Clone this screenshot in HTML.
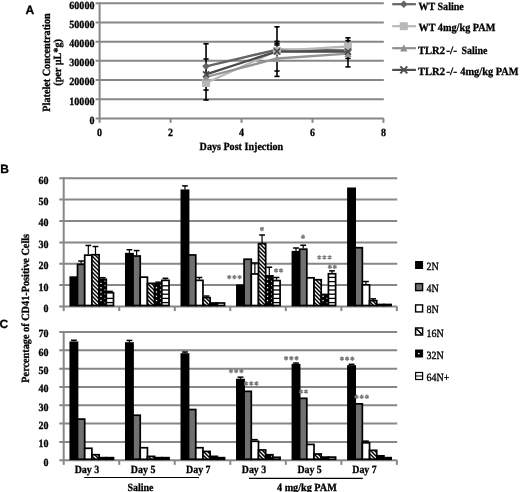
<!DOCTYPE html>
<html><head><meta charset="utf-8"><style>
html,body{margin:0;padding:0;background:#fff;}
body{width:520px;height:492px;overflow:hidden;}
svg{display:block;will-change:transform;}
text{text-rendering:geometricPrecision;}
text[font-weight="bold"]{stroke:currentColor;stroke-width:0.3px;}
text[font-weight="normal"]{stroke:currentColor;stroke-width:0.35px;}
</style></head><body>
<svg width="520" height="492" viewBox="0 0 520 492">
<rect width="520" height="492" fill="#fff"/>
<line x1="95.60" y1="118.43" x2="383.80" y2="118.43" stroke="#878787" stroke-width="2"/>
<line x1="95.60" y1="99.23" x2="383.80" y2="99.23" stroke="#878787" stroke-width="2"/>
<line x1="95.60" y1="80.04" x2="383.80" y2="80.04" stroke="#878787" stroke-width="2"/>
<line x1="95.60" y1="60.84" x2="383.80" y2="60.84" stroke="#878787" stroke-width="2"/>
<line x1="95.60" y1="41.65" x2="383.80" y2="41.65" stroke="#878787" stroke-width="2"/>
<line x1="95.60" y1="22.45" x2="383.80" y2="22.45" stroke="#878787" stroke-width="2"/>
<line x1="95.60" y1="3.25" x2="383.80" y2="3.25" stroke="#878787" stroke-width="2"/>
<line x1="99.60" y1="2.25" x2="99.60" y2="122.80" stroke="#878787" stroke-width="2"/>
<line x1="170.56" y1="118.43" x2="170.56" y2="122.80" stroke="#878787" stroke-width="2"/>
<line x1="241.52" y1="118.43" x2="241.52" y2="122.80" stroke="#878787" stroke-width="2"/>
<line x1="312.48" y1="118.43" x2="312.48" y2="122.80" stroke="#878787" stroke-width="2"/>
<line x1="383.44" y1="118.43" x2="383.44" y2="122.80" stroke="#878787" stroke-width="2"/>
<text x="94.40" y="123.83" font-size="11" text-anchor="end" font-weight="bold" fill="#000" color="#000" font-family='"Liberation Serif", serif' textLength="5.0" lengthAdjust="spacingAndGlyphs">0</text>
<text x="94.40" y="104.63" font-size="11" text-anchor="end" font-weight="bold" fill="#000" color="#000" font-family='"Liberation Serif", serif' textLength="25.03" lengthAdjust="spacingAndGlyphs">10000</text>
<text x="94.40" y="85.44" font-size="11" text-anchor="end" font-weight="bold" fill="#000" color="#000" font-family='"Liberation Serif", serif' textLength="25.03" lengthAdjust="spacingAndGlyphs">20000</text>
<text x="94.40" y="66.24" font-size="11" text-anchor="end" font-weight="bold" fill="#000" color="#000" font-family='"Liberation Serif", serif' textLength="25.03" lengthAdjust="spacingAndGlyphs">30000</text>
<text x="94.40" y="47.05" font-size="11" text-anchor="end" font-weight="bold" fill="#000" color="#000" font-family='"Liberation Serif", serif' textLength="25.03" lengthAdjust="spacingAndGlyphs">40000</text>
<text x="94.40" y="27.85" font-size="11" text-anchor="end" font-weight="bold" fill="#000" color="#000" font-family='"Liberation Serif", serif' textLength="25.03" lengthAdjust="spacingAndGlyphs">50000</text>
<text x="94.40" y="8.65" font-size="11" text-anchor="end" font-weight="bold" fill="#000" color="#000" font-family='"Liberation Serif", serif' textLength="25.03" lengthAdjust="spacingAndGlyphs">60000</text>
<text x="99.60" y="136.00" font-size="11" text-anchor="middle" font-weight="bold" fill="#000" color="#000" font-family='"Liberation Serif", serif' textLength="5.0" lengthAdjust="spacingAndGlyphs">0</text>
<text x="170.56" y="136.00" font-size="11" text-anchor="middle" font-weight="bold" fill="#000" color="#000" font-family='"Liberation Serif", serif' textLength="5.0" lengthAdjust="spacingAndGlyphs">2</text>
<text x="241.52" y="136.00" font-size="11" text-anchor="middle" font-weight="bold" fill="#000" color="#000" font-family='"Liberation Serif", serif' textLength="5.0" lengthAdjust="spacingAndGlyphs">4</text>
<text x="312.48" y="136.00" font-size="11" text-anchor="middle" font-weight="bold" fill="#000" color="#000" font-family='"Liberation Serif", serif' textLength="5.0" lengthAdjust="spacingAndGlyphs">6</text>
<text x="383.44" y="136.00" font-size="11" text-anchor="middle" font-weight="bold" fill="#000" color="#000" font-family='"Liberation Serif", serif' textLength="5.0" lengthAdjust="spacingAndGlyphs">8</text>
<text x="241.40" y="150.30" font-size="11" text-anchor="middle" font-weight="bold" fill="#000" color="#000" font-family='"Liberation Serif", serif' textLength="83.6" lengthAdjust="spacingAndGlyphs">Days Post Injection</text>
<g transform="translate(50.0,62.5) rotate(-90)">
<text x="0.00" y="0.00" font-size="11" text-anchor="middle" font-weight="bold" fill="#000" color="#000" font-family='"Liberation Serif", serif' textLength="98.3" lengthAdjust="spacingAndGlyphs">Platelet Concentration</text>
</g>
<g transform="translate(61.4,62.4) rotate(-90)">
<text x="0.00" y="0.00" font-size="11" text-anchor="middle" font-weight="bold" fill="#000" color="#000" font-family='"Liberation Serif", serif' textLength="46.6" lengthAdjust="spacingAndGlyphs">(per µL*g)</text>
</g>
<line x1="206.04" y1="43.80" x2="206.04" y2="100.00" stroke="#000" stroke-width="1.6"/>
<line x1="203.44" y1="43.80" x2="208.64" y2="43.80" stroke="#000" stroke-width="1.6"/>
<line x1="203.44" y1="59.00" x2="208.64" y2="59.00" stroke="#000" stroke-width="1.6"/>
<line x1="203.44" y1="90.00" x2="208.64" y2="90.00" stroke="#000" stroke-width="1.6"/>
<line x1="203.44" y1="100.00" x2="208.64" y2="100.00" stroke="#000" stroke-width="1.6"/>
<line x1="277.00" y1="26.80" x2="277.00" y2="76.40" stroke="#000" stroke-width="1.6"/>
<line x1="274.40" y1="26.80" x2="279.60" y2="26.80" stroke="#000" stroke-width="1.6"/>
<line x1="274.40" y1="41.40" x2="279.60" y2="41.40" stroke="#000" stroke-width="1.6"/>
<line x1="274.40" y1="43.40" x2="279.60" y2="43.40" stroke="#000" stroke-width="1.6"/>
<line x1="274.40" y1="45.00" x2="279.60" y2="45.00" stroke="#000" stroke-width="1.6"/>
<line x1="274.40" y1="71.00" x2="279.60" y2="71.00" stroke="#000" stroke-width="1.6"/>
<line x1="274.40" y1="76.40" x2="279.60" y2="76.40" stroke="#000" stroke-width="1.6"/>
<line x1="347.96" y1="37.80" x2="347.96" y2="66.90" stroke="#000" stroke-width="1.6"/>
<line x1="345.36" y1="37.80" x2="350.56" y2="37.80" stroke="#000" stroke-width="1.6"/>
<line x1="345.36" y1="40.60" x2="350.56" y2="40.60" stroke="#000" stroke-width="1.6"/>
<line x1="345.36" y1="58.40" x2="350.56" y2="58.40" stroke="#000" stroke-width="1.6"/>
<line x1="345.36" y1="66.90" x2="350.56" y2="66.90" stroke="#000" stroke-width="1.6"/>
<path d="M206.04 66.30 L277.00 49.60 L347.96 50.50" stroke="#646464" stroke-width="2.3" fill="none"/>
<path d="M206.04 83.00 L277.00 50.80 L347.96 46.50" stroke="#b8b8b8" stroke-width="2.3" fill="none"/>
<path d="M206.04 77.00 L277.00 58.50 L347.96 53.60" stroke="#949494" stroke-width="2.3" fill="none"/>
<path d="M206.04 74.30 L277.00 51.30 L347.96 51.60" stroke="#4a4a4a" stroke-width="2.3" fill="none"/>
<path d="M206.04 62.50 L209.84 66.30 L206.04 70.10 L202.24 66.30Z" fill="#646464"/>
<path d="M277.00 45.80 L280.80 49.60 L277.00 53.40 L273.20 49.60Z" fill="#646464"/>
<path d="M347.96 46.70 L351.76 50.50 L347.96 54.30 L344.16 50.50Z" fill="#646464"/>
<rect x="202.04" y="79.00" width="8" height="8" fill="#b8b8b8"/>
<rect x="273.00" y="46.80" width="8" height="8" fill="#b8b8b8"/>
<rect x="343.96" y="42.50" width="8" height="8" fill="#b8b8b8"/>
<path d="M206.04 73.00 L209.64 80.40 L202.44 80.40Z" fill="#949494"/>
<path d="M277.00 54.50 L280.60 61.90 L273.40 61.90Z" fill="#949494"/>
<path d="M347.96 49.60 L351.56 57.00 L344.36 57.00Z" fill="#949494"/>
<path d="M203.04 71.30 L209.04 77.30 M209.04 71.30 L203.04 77.30" stroke="#4a4a4a" stroke-width="1.7" fill="none"/>
<path d="M274.00 48.30 L280.00 54.30 M280.00 48.30 L274.00 54.30" stroke="#4a4a4a" stroke-width="1.7" fill="none"/>
<path d="M344.96 48.60 L350.96 54.60 M350.96 48.60 L344.96 54.60" stroke="#4a4a4a" stroke-width="1.7" fill="none"/>
<line x1="392.2" y1="4.20" x2="415.9" y2="4.20" stroke="#646464" stroke-width="2.2"/>
<path d="M403.80 0.40 L407.60 4.20 L403.80 8.00 L400.00 4.20Z" fill="#646464"/>
<line x1="392.2" y1="26.20" x2="415.9" y2="26.20" stroke="#b8b8b8" stroke-width="2.2"/>
<rect x="399.80" y="22.20" width="8" height="8" fill="#b8b8b8"/>
<line x1="392.2" y1="48.20" x2="415.9" y2="48.20" stroke="#8e8e8e" stroke-width="2.2"/>
<path d="M403.80 44.20 L407.40 51.60 L400.20 51.60Z" fill="#8e8e8e"/>
<line x1="392.2" y1="69.90" x2="415.9" y2="69.90" stroke="#4e4e4e" stroke-width="2.2"/>
<path d="M400.30 66.40 L407.30 73.40 M407.30 66.40 L400.30 73.40" stroke="#4e4e4e" stroke-width="2.0" fill="none"/>
<text x="418.40" y="9.50" font-size="11" text-anchor="start" font-weight="bold" fill="#000" color="#000" font-family='"Liberation Serif", serif' textLength="45.4" lengthAdjust="spacingAndGlyphs">WT Saline</text>
<text x="418.40" y="31.10" font-size="11" text-anchor="start" font-weight="bold" fill="#000" color="#000" font-family='"Liberation Serif", serif' textLength="77.0" lengthAdjust="spacingAndGlyphs">WT 4mg/kg PAM</text>
<text x="418.00" y="53.50" font-size="11" text-anchor="start" font-weight="bold" fill="#000" color="#000" font-family='"Liberation Serif", serif' textLength="27.0" lengthAdjust="spacingAndGlyphs">TLR2</text>
<text x="446.20" y="53.50" font-size="11" text-anchor="start" font-weight="bold" fill="#000" color="#000" font-family='"Liberation Serif", serif' textLength="10.8" lengthAdjust="spacingAndGlyphs">-/-</text>
<text x="418.00" y="75.20" font-size="11" text-anchor="start" font-weight="bold" fill="#000" color="#000" font-family='"Liberation Serif", serif' textLength="27.0" lengthAdjust="spacingAndGlyphs">TLR2</text>
<text x="446.20" y="75.20" font-size="11" text-anchor="start" font-weight="bold" fill="#000" color="#000" font-family='"Liberation Serif", serif' textLength="10.8" lengthAdjust="spacingAndGlyphs">-/-</text>
<text x="461.60" y="53.50" font-size="11" text-anchor="start" font-weight="bold" fill="#000" color="#000" font-family='"Liberation Serif", serif' textLength="25.8" lengthAdjust="spacingAndGlyphs">Saline</text>
<text x="460.30" y="75.20" font-size="11" text-anchor="start" font-weight="bold" fill="#000" color="#000" font-family='"Liberation Serif", serif' textLength="58.2" lengthAdjust="spacingAndGlyphs">4mg/kg PAM</text>
<defs>
<pattern id="hatch" patternUnits="userSpaceOnUse" width="4" height="4">
<rect width="4" height="4" fill="#fff"/>
<path d="M-1 -1 L5 5 M-1 3 L1 5 M3 -1 L5 1" stroke="#000" stroke-width="1.5"/>
</pattern>
</defs>
<line x1="59.30" y1="306.50" x2="397.20" y2="306.50" stroke="#878787" stroke-width="2"/>
<line x1="59.30" y1="285.12" x2="397.20" y2="285.12" stroke="#878787" stroke-width="2"/>
<line x1="59.30" y1="263.75" x2="397.20" y2="263.75" stroke="#878787" stroke-width="2"/>
<line x1="59.30" y1="242.38" x2="397.20" y2="242.38" stroke="#878787" stroke-width="2"/>
<line x1="59.30" y1="221.00" x2="397.20" y2="221.00" stroke="#878787" stroke-width="2"/>
<line x1="59.30" y1="199.62" x2="397.20" y2="199.62" stroke="#878787" stroke-width="2"/>
<line x1="59.30" y1="178.25" x2="397.20" y2="178.25" stroke="#878787" stroke-width="2"/>
<line x1="63.70" y1="177.25" x2="63.70" y2="311.10" stroke="#878787" stroke-width="2"/>
<line x1="119.23" y1="306.50" x2="119.23" y2="311.10" stroke="#878787" stroke-width="2"/>
<line x1="174.76" y1="306.50" x2="174.76" y2="311.10" stroke="#878787" stroke-width="2"/>
<line x1="230.29" y1="306.50" x2="230.29" y2="311.10" stroke="#878787" stroke-width="2"/>
<line x1="285.82" y1="306.50" x2="285.82" y2="311.10" stroke="#878787" stroke-width="2"/>
<line x1="341.35" y1="306.50" x2="341.35" y2="311.10" stroke="#878787" stroke-width="2"/>
<line x1="396.88" y1="306.50" x2="396.88" y2="311.10" stroke="#878787" stroke-width="2"/>
<text x="48.60" y="311.90" font-size="11" text-anchor="end" font-weight="bold" fill="#000" color="#000" font-family='"Liberation Serif", serif' textLength="5.0" lengthAdjust="spacingAndGlyphs">0</text>
<text x="48.60" y="290.52" font-size="11" text-anchor="end" font-weight="bold" fill="#000" color="#000" font-family='"Liberation Serif", serif' textLength="10.01" lengthAdjust="spacingAndGlyphs">10</text>
<text x="48.60" y="269.15" font-size="11" text-anchor="end" font-weight="bold" fill="#000" color="#000" font-family='"Liberation Serif", serif' textLength="10.01" lengthAdjust="spacingAndGlyphs">20</text>
<text x="48.60" y="247.78" font-size="11" text-anchor="end" font-weight="bold" fill="#000" color="#000" font-family='"Liberation Serif", serif' textLength="10.01" lengthAdjust="spacingAndGlyphs">30</text>
<text x="48.60" y="226.40" font-size="11" text-anchor="end" font-weight="bold" fill="#000" color="#000" font-family='"Liberation Serif", serif' textLength="10.01" lengthAdjust="spacingAndGlyphs">40</text>
<text x="48.60" y="205.03" font-size="11" text-anchor="end" font-weight="bold" fill="#000" color="#000" font-family='"Liberation Serif", serif' textLength="10.01" lengthAdjust="spacingAndGlyphs">50</text>
<text x="48.60" y="183.65" font-size="11" text-anchor="end" font-weight="bold" fill="#000" color="#000" font-family='"Liberation Serif", serif' textLength="10.01" lengthAdjust="spacingAndGlyphs">60</text>
<rect x="70.30" y="277.16" width="7.20" height="28.34" fill="#000" stroke="#000" stroke-width="1.7"/>
<rect x="77.50" y="264.35" width="7.20" height="41.15" fill="#707070" stroke="#000" stroke-width="1.7"/>
<line x1="81.10" y1="261.04" x2="81.10" y2="263.60" stroke="#000" stroke-width="1.2"/>
<line x1="78.20" y1="261.04" x2="84.00" y2="261.04" stroke="#000" stroke-width="1.5"/>
<rect x="84.70" y="255.17" width="7.20" height="50.33" fill="#fff" stroke="#000" stroke-width="1.7"/>
<line x1="88.30" y1="245.45" x2="88.30" y2="254.42" stroke="#000" stroke-width="1.2"/>
<line x1="85.40" y1="245.45" x2="91.20" y2="245.45" stroke="#000" stroke-width="1.5"/>
<rect x="91.90" y="254.74" width="7.20" height="50.76" fill="url(#hatch)" stroke="#000" stroke-width="1.7"/>
<line x1="95.50" y1="246.52" x2="95.50" y2="253.99" stroke="#000" stroke-width="1.2"/>
<line x1="92.60" y1="246.52" x2="98.40" y2="246.52" stroke="#000" stroke-width="1.5"/>
<rect x="99.10" y="279.30" width="7.20" height="26.20" fill="#000" stroke="#000" stroke-width="1.7"/>
<rect x="100.30" y="299.90" width="1.3" height="1.3" fill="#fff"/>
<rect x="100.30" y="295.62" width="1.3" height="1.3" fill="#fff"/>
<rect x="100.30" y="291.34" width="1.3" height="1.3" fill="#fff"/>
<rect x="100.30" y="287.06" width="1.3" height="1.3" fill="#fff"/>
<rect x="100.30" y="282.78" width="1.3" height="1.3" fill="#fff"/>
<rect x="104.40" y="302.00" width="1.2" height="1.3" fill="#aaa"/>
<rect x="104.40" y="297.72" width="1.2" height="1.3" fill="#aaa"/>
<rect x="104.40" y="293.44" width="1.2" height="1.3" fill="#aaa"/>
<rect x="104.40" y="289.16" width="1.2" height="1.3" fill="#aaa"/>
<rect x="104.40" y="284.88" width="1.2" height="1.3" fill="#aaa"/>
<rect x="104.40" y="280.60" width="1.2" height="1.3" fill="#aaa"/>
<line x1="102.70" y1="277.69" x2="102.70" y2="278.55" stroke="#000" stroke-width="1.2"/>
<line x1="99.80" y1="277.69" x2="105.60" y2="277.69" stroke="#000" stroke-width="1.5"/>
<rect x="106.30" y="292.75" width="7.20" height="12.75" fill="#fff" stroke="#000" stroke-width="1.7"/>
<line x1="106.30" y1="302.60" x2="113.50" y2="302.60" stroke="#000" stroke-width="1.3"/>
<line x1="106.30" y1="298.40" x2="113.50" y2="298.40" stroke="#000" stroke-width="1.3"/>
<line x1="109.90" y1="291.36" x2="109.90" y2="292.00" stroke="#000" stroke-width="1.2"/>
<line x1="107.00" y1="291.36" x2="112.80" y2="291.36" stroke="#000" stroke-width="1.5"/>
<rect x="125.83" y="253.68" width="7.20" height="51.82" fill="#000" stroke="#000" stroke-width="1.7"/>
<line x1="129.43" y1="249.72" x2="129.43" y2="252.93" stroke="#000" stroke-width="1.2"/>
<line x1="126.53" y1="249.72" x2="132.33" y2="249.72" stroke="#000" stroke-width="1.5"/>
<rect x="133.03" y="256.02" width="7.20" height="49.48" fill="#707070" stroke="#000" stroke-width="1.7"/>
<line x1="136.63" y1="250.58" x2="136.63" y2="255.27" stroke="#000" stroke-width="1.2"/>
<line x1="133.73" y1="250.58" x2="139.53" y2="250.58" stroke="#000" stroke-width="1.5"/>
<rect x="140.23" y="277.16" width="7.20" height="28.34" fill="#fff" stroke="#000" stroke-width="1.7"/>
<rect x="147.43" y="283.35" width="7.20" height="22.15" fill="url(#hatch)" stroke="#000" stroke-width="1.7"/>
<rect x="154.63" y="283.78" width="7.20" height="21.72" fill="#000" stroke="#000" stroke-width="1.7"/>
<rect x="155.83" y="299.90" width="1.3" height="1.3" fill="#fff"/>
<rect x="155.83" y="295.62" width="1.3" height="1.3" fill="#fff"/>
<rect x="155.83" y="291.34" width="1.3" height="1.3" fill="#fff"/>
<rect x="155.83" y="287.06" width="1.3" height="1.3" fill="#fff"/>
<rect x="159.93" y="302.00" width="1.2" height="1.3" fill="#aaa"/>
<rect x="159.93" y="297.72" width="1.2" height="1.3" fill="#aaa"/>
<rect x="159.93" y="293.44" width="1.2" height="1.3" fill="#aaa"/>
<rect x="159.93" y="289.16" width="1.2" height="1.3" fill="#aaa"/>
<rect x="159.93" y="284.88" width="1.2" height="1.3" fill="#aaa"/>
<line x1="158.23" y1="282.17" x2="158.23" y2="283.03" stroke="#000" stroke-width="1.2"/>
<line x1="155.33" y1="282.17" x2="161.13" y2="282.17" stroke="#000" stroke-width="1.5"/>
<rect x="161.83" y="280.36" width="7.20" height="25.14" fill="#fff" stroke="#000" stroke-width="1.7"/>
<line x1="161.83" y1="302.60" x2="169.03" y2="302.60" stroke="#000" stroke-width="1.3"/>
<line x1="161.83" y1="298.40" x2="169.03" y2="298.40" stroke="#000" stroke-width="1.3"/>
<line x1="161.83" y1="294.20" x2="169.03" y2="294.20" stroke="#000" stroke-width="1.3"/>
<line x1="161.83" y1="290.00" x2="169.03" y2="290.00" stroke="#000" stroke-width="1.3"/>
<line x1="161.83" y1="285.80" x2="169.03" y2="285.80" stroke="#000" stroke-width="1.3"/>
<line x1="165.43" y1="278.33" x2="165.43" y2="279.61" stroke="#000" stroke-width="1.2"/>
<line x1="162.53" y1="278.33" x2="168.33" y2="278.33" stroke="#000" stroke-width="1.5"/>
<rect x="181.36" y="190.27" width="7.20" height="115.23" fill="#000" stroke="#000" stroke-width="1.7"/>
<line x1="184.96" y1="185.89" x2="184.96" y2="189.52" stroke="#000" stroke-width="1.2"/>
<line x1="182.06" y1="185.89" x2="187.86" y2="185.89" stroke="#000" stroke-width="1.5"/>
<rect x="188.56" y="254.96" width="7.20" height="50.54" fill="#707070" stroke="#000" stroke-width="1.7"/>
<rect x="195.76" y="280.36" width="7.20" height="25.14" fill="#fff" stroke="#000" stroke-width="1.7"/>
<line x1="199.36" y1="277.48" x2="199.36" y2="279.61" stroke="#000" stroke-width="1.2"/>
<line x1="196.46" y1="277.48" x2="202.26" y2="277.48" stroke="#000" stroke-width="1.5"/>
<rect x="202.96" y="297.66" width="7.20" height="7.84" fill="url(#hatch)" stroke="#000" stroke-width="1.7"/>
<line x1="206.56" y1="296.05" x2="206.56" y2="296.91" stroke="#000" stroke-width="1.2"/>
<line x1="203.66" y1="296.05" x2="209.46" y2="296.05" stroke="#000" stroke-width="1.5"/>
<rect x="210.16" y="302.99" width="7.20" height="2.51" fill="#000" stroke="#000" stroke-width="1.7"/>
<rect x="217.36" y="302.99" width="7.20" height="2.51" fill="#fff" stroke="#000" stroke-width="1.7"/>
<rect x="236.89" y="285.27" width="7.20" height="20.23" fill="#000" stroke="#000" stroke-width="1.7"/>
<rect x="244.09" y="259.23" width="7.20" height="46.27" fill="#707070" stroke="#000" stroke-width="1.7"/>
<rect x="251.29" y="273.96" width="7.20" height="31.54" fill="#fff" stroke="#000" stroke-width="1.7"/>
<line x1="254.89" y1="262.96" x2="254.89" y2="273.21" stroke="#000" stroke-width="1.2"/>
<line x1="251.99" y1="262.96" x2="257.79" y2="262.96" stroke="#000" stroke-width="1.5"/>
<rect x="258.49" y="243.64" width="7.20" height="61.86" fill="url(#hatch)" stroke="#000" stroke-width="1.7"/>
<line x1="262.09" y1="234.99" x2="262.09" y2="242.89" stroke="#000" stroke-width="1.2"/>
<line x1="259.19" y1="234.99" x2="264.99" y2="234.99" stroke="#000" stroke-width="1.5"/>
<rect x="265.69" y="275.88" width="7.20" height="29.62" fill="#000" stroke="#000" stroke-width="1.7"/>
<rect x="266.89" y="299.90" width="1.3" height="1.3" fill="#fff"/>
<rect x="266.89" y="295.62" width="1.3" height="1.3" fill="#fff"/>
<rect x="266.89" y="291.34" width="1.3" height="1.3" fill="#fff"/>
<rect x="266.89" y="287.06" width="1.3" height="1.3" fill="#fff"/>
<rect x="266.89" y="282.78" width="1.3" height="1.3" fill="#fff"/>
<rect x="266.89" y="278.50" width="1.3" height="1.3" fill="#fff"/>
<rect x="270.99" y="302.00" width="1.2" height="1.3" fill="#aaa"/>
<rect x="270.99" y="297.72" width="1.2" height="1.3" fill="#aaa"/>
<rect x="270.99" y="293.44" width="1.2" height="1.3" fill="#aaa"/>
<rect x="270.99" y="289.16" width="1.2" height="1.3" fill="#aaa"/>
<rect x="270.99" y="284.88" width="1.2" height="1.3" fill="#aaa"/>
<rect x="270.99" y="280.60" width="1.2" height="1.3" fill="#aaa"/>
<line x1="269.29" y1="267.23" x2="269.29" y2="275.13" stroke="#000" stroke-width="1.2"/>
<line x1="266.39" y1="267.23" x2="272.19" y2="267.23" stroke="#000" stroke-width="1.5"/>
<rect x="272.89" y="280.58" width="7.20" height="24.92" fill="#fff" stroke="#000" stroke-width="1.7"/>
<line x1="272.89" y1="302.60" x2="280.09" y2="302.60" stroke="#000" stroke-width="1.3"/>
<line x1="272.89" y1="298.40" x2="280.09" y2="298.40" stroke="#000" stroke-width="1.3"/>
<line x1="272.89" y1="294.20" x2="280.09" y2="294.20" stroke="#000" stroke-width="1.3"/>
<line x1="272.89" y1="290.00" x2="280.09" y2="290.00" stroke="#000" stroke-width="1.3"/>
<line x1="272.89" y1="285.80" x2="280.09" y2="285.80" stroke="#000" stroke-width="1.3"/>
<line x1="276.49" y1="277.48" x2="276.49" y2="279.83" stroke="#000" stroke-width="1.2"/>
<line x1="273.59" y1="277.48" x2="279.39" y2="277.48" stroke="#000" stroke-width="1.5"/>
<rect x="292.42" y="251.75" width="7.20" height="53.75" fill="#000" stroke="#000" stroke-width="1.7"/>
<line x1="296.02" y1="248.01" x2="296.02" y2="251.00" stroke="#000" stroke-width="1.2"/>
<line x1="293.12" y1="248.01" x2="298.92" y2="248.01" stroke="#000" stroke-width="1.5"/>
<rect x="299.62" y="249.19" width="7.20" height="56.31" fill="#707070" stroke="#000" stroke-width="1.7"/>
<line x1="303.22" y1="245.24" x2="303.22" y2="248.44" stroke="#000" stroke-width="1.2"/>
<line x1="300.32" y1="245.24" x2="306.12" y2="245.24" stroke="#000" stroke-width="1.5"/>
<rect x="306.82" y="277.80" width="7.20" height="27.70" fill="#fff" stroke="#000" stroke-width="1.7"/>
<rect x="314.02" y="279.72" width="7.20" height="25.78" fill="url(#hatch)" stroke="#000" stroke-width="1.7"/>
<rect x="321.22" y="294.45" width="7.20" height="11.05" fill="#000" stroke="#000" stroke-width="1.7"/>
<rect x="322.42" y="299.90" width="1.3" height="1.3" fill="#fff"/>
<rect x="322.42" y="295.62" width="1.3" height="1.3" fill="#fff"/>
<rect x="326.52" y="302.00" width="1.2" height="1.3" fill="#aaa"/>
<rect x="326.52" y="297.72" width="1.2" height="1.3" fill="#aaa"/>
<rect x="328.42" y="273.74" width="7.20" height="31.76" fill="#fff" stroke="#000" stroke-width="1.7"/>
<line x1="328.42" y1="302.60" x2="335.62" y2="302.60" stroke="#000" stroke-width="1.3"/>
<line x1="328.42" y1="298.40" x2="335.62" y2="298.40" stroke="#000" stroke-width="1.3"/>
<line x1="328.42" y1="294.20" x2="335.62" y2="294.20" stroke="#000" stroke-width="1.3"/>
<line x1="328.42" y1="290.00" x2="335.62" y2="290.00" stroke="#000" stroke-width="1.3"/>
<line x1="328.42" y1="285.80" x2="335.62" y2="285.80" stroke="#000" stroke-width="1.3"/>
<line x1="328.42" y1="281.60" x2="335.62" y2="281.60" stroke="#000" stroke-width="1.3"/>
<line x1="328.42" y1="277.40" x2="335.62" y2="277.40" stroke="#000" stroke-width="1.3"/>
<line x1="332.02" y1="270.86" x2="332.02" y2="272.99" stroke="#000" stroke-width="1.2"/>
<line x1="329.12" y1="270.86" x2="334.92" y2="270.86" stroke="#000" stroke-width="1.5"/>
<rect x="347.95" y="188.34" width="7.20" height="117.16" fill="#000" stroke="#000" stroke-width="1.7"/>
<rect x="355.15" y="247.70" width="7.20" height="57.80" fill="#707070" stroke="#000" stroke-width="1.7"/>
<rect x="362.35" y="284.85" width="7.20" height="20.65" fill="#fff" stroke="#000" stroke-width="1.7"/>
<line x1="365.95" y1="281.53" x2="365.95" y2="284.10" stroke="#000" stroke-width="1.2"/>
<line x1="363.05" y1="281.53" x2="368.85" y2="281.53" stroke="#000" stroke-width="1.5"/>
<rect x="369.55" y="300.65" width="7.20" height="4.85" fill="url(#hatch)" stroke="#000" stroke-width="1.7"/>
<line x1="373.15" y1="298.83" x2="373.15" y2="299.90" stroke="#000" stroke-width="1.2"/>
<line x1="370.25" y1="298.83" x2="376.05" y2="298.83" stroke="#000" stroke-width="1.5"/>
<rect x="376.75" y="304.49" width="7.20" height="1.01" fill="#000" stroke="#000" stroke-width="1.7"/>
<rect x="383.95" y="304.49" width="7.20" height="1.01" fill="#fff" stroke="#000" stroke-width="1.7"/>
<line x1="59.30" y1="460.27" x2="397.20" y2="460.27" stroke="#878787" stroke-width="2"/>
<line x1="59.30" y1="441.94" x2="397.20" y2="441.94" stroke="#878787" stroke-width="2"/>
<line x1="59.30" y1="423.62" x2="397.20" y2="423.62" stroke="#878787" stroke-width="2"/>
<line x1="59.30" y1="405.29" x2="397.20" y2="405.29" stroke="#878787" stroke-width="2"/>
<line x1="59.30" y1="386.97" x2="397.20" y2="386.97" stroke="#878787" stroke-width="2"/>
<line x1="59.30" y1="368.64" x2="397.20" y2="368.64" stroke="#878787" stroke-width="2"/>
<line x1="59.30" y1="350.31" x2="397.20" y2="350.31" stroke="#878787" stroke-width="2"/>
<line x1="59.30" y1="331.99" x2="397.20" y2="331.99" stroke="#878787" stroke-width="2"/>
<line x1="63.70" y1="330.99" x2="63.70" y2="464.87" stroke="#878787" stroke-width="2"/>
<line x1="119.23" y1="460.27" x2="119.23" y2="464.87" stroke="#878787" stroke-width="2"/>
<line x1="174.76" y1="460.27" x2="174.76" y2="464.87" stroke="#878787" stroke-width="2"/>
<line x1="230.29" y1="460.27" x2="230.29" y2="464.87" stroke="#878787" stroke-width="2"/>
<line x1="285.82" y1="460.27" x2="285.82" y2="464.87" stroke="#878787" stroke-width="2"/>
<line x1="341.35" y1="460.27" x2="341.35" y2="464.87" stroke="#878787" stroke-width="2"/>
<line x1="396.88" y1="460.27" x2="396.88" y2="464.87" stroke="#878787" stroke-width="2"/>
<text x="48.60" y="465.67" font-size="11" text-anchor="end" font-weight="bold" fill="#000" color="#000" font-family='"Liberation Serif", serif' textLength="5.0" lengthAdjust="spacingAndGlyphs">0</text>
<text x="48.60" y="447.34" font-size="11" text-anchor="end" font-weight="bold" fill="#000" color="#000" font-family='"Liberation Serif", serif' textLength="10.01" lengthAdjust="spacingAndGlyphs">10</text>
<text x="48.60" y="429.02" font-size="11" text-anchor="end" font-weight="bold" fill="#000" color="#000" font-family='"Liberation Serif", serif' textLength="10.01" lengthAdjust="spacingAndGlyphs">20</text>
<text x="48.60" y="410.69" font-size="11" text-anchor="end" font-weight="bold" fill="#000" color="#000" font-family='"Liberation Serif", serif' textLength="10.01" lengthAdjust="spacingAndGlyphs">30</text>
<text x="48.60" y="392.37" font-size="11" text-anchor="end" font-weight="bold" fill="#000" color="#000" font-family='"Liberation Serif", serif' textLength="10.01" lengthAdjust="spacingAndGlyphs">40</text>
<text x="48.60" y="374.04" font-size="11" text-anchor="end" font-weight="bold" fill="#000" color="#000" font-family='"Liberation Serif", serif' textLength="10.01" lengthAdjust="spacingAndGlyphs">50</text>
<text x="48.60" y="355.71" font-size="11" text-anchor="end" font-weight="bold" fill="#000" color="#000" font-family='"Liberation Serif", serif' textLength="10.01" lengthAdjust="spacingAndGlyphs">60</text>
<text x="48.60" y="337.39" font-size="11" text-anchor="end" font-weight="bold" fill="#000" color="#000" font-family='"Liberation Serif", serif' textLength="10.01" lengthAdjust="spacingAndGlyphs">70</text>
<rect x="70.30" y="342.30" width="7.20" height="116.97" fill="#000" stroke="#000" stroke-width="1.7"/>
<line x1="73.90" y1="340.26" x2="73.90" y2="341.55" stroke="#000" stroke-width="1.2"/>
<line x1="71.00" y1="340.26" x2="76.80" y2="340.26" stroke="#000" stroke-width="1.5"/>
<rect x="77.50" y="419.08" width="7.20" height="40.19" fill="#707070" stroke="#000" stroke-width="1.7"/>
<rect x="84.70" y="448.29" width="7.20" height="10.98" fill="#fff" stroke="#000" stroke-width="1.7"/>
<rect x="91.90" y="454.72" width="7.20" height="4.55" fill="url(#hatch)" stroke="#000" stroke-width="1.7"/>
<rect x="99.10" y="457.66" width="7.20" height="1.61" fill="#000" stroke="#000" stroke-width="1.7"/>
<rect x="106.30" y="457.66" width="7.20" height="1.61" fill="#fff" stroke="#000" stroke-width="1.7"/>
<rect x="125.83" y="343.03" width="7.20" height="116.24" fill="#000" stroke="#000" stroke-width="1.7"/>
<line x1="129.43" y1="340.44" x2="129.43" y2="342.28" stroke="#000" stroke-width="1.2"/>
<line x1="126.53" y1="340.44" x2="132.33" y2="340.44" stroke="#000" stroke-width="1.5"/>
<rect x="133.03" y="415.22" width="7.20" height="44.05" fill="#707070" stroke="#000" stroke-width="1.7"/>
<rect x="140.23" y="447.74" width="7.20" height="11.53" fill="#fff" stroke="#000" stroke-width="1.7"/>
<rect x="147.43" y="456.37" width="7.20" height="2.90" fill="url(#hatch)" stroke="#000" stroke-width="1.7"/>
<rect x="154.63" y="457.66" width="7.20" height="1.61" fill="#000" stroke="#000" stroke-width="1.7"/>
<rect x="161.83" y="457.66" width="7.20" height="1.61" fill="#fff" stroke="#000" stroke-width="1.7"/>
<rect x="181.36" y="354.05" width="7.20" height="105.22" fill="#000" stroke="#000" stroke-width="1.7"/>
<line x1="184.96" y1="352.02" x2="184.96" y2="353.30" stroke="#000" stroke-width="1.2"/>
<line x1="182.06" y1="352.02" x2="187.86" y2="352.02" stroke="#000" stroke-width="1.5"/>
<rect x="188.56" y="409.53" width="7.20" height="49.74" fill="#707070" stroke="#000" stroke-width="1.7"/>
<rect x="195.76" y="447.74" width="7.20" height="11.53" fill="#fff" stroke="#000" stroke-width="1.7"/>
<rect x="202.96" y="451.41" width="7.20" height="7.86" fill="url(#hatch)" stroke="#000" stroke-width="1.7"/>
<rect x="210.16" y="456.37" width="7.20" height="2.90" fill="#000" stroke="#000" stroke-width="1.7"/>
<rect x="217.36" y="457.66" width="7.20" height="1.61" fill="#fff" stroke="#000" stroke-width="1.7"/>
<rect x="236.89" y="379.59" width="7.20" height="79.68" fill="#000" stroke="#000" stroke-width="1.7"/>
<line x1="240.49" y1="377.18" x2="240.49" y2="378.84" stroke="#000" stroke-width="1.2"/>
<line x1="237.59" y1="377.18" x2="243.39" y2="377.18" stroke="#000" stroke-width="1.5"/>
<rect x="244.09" y="391.34" width="7.20" height="67.93" fill="#707070" stroke="#000" stroke-width="1.7"/>
<rect x="251.29" y="441.31" width="7.20" height="17.96" fill="#fff" stroke="#000" stroke-width="1.7"/>
<line x1="254.89" y1="439.64" x2="254.89" y2="440.56" stroke="#000" stroke-width="1.2"/>
<line x1="251.99" y1="439.64" x2="257.79" y2="439.64" stroke="#000" stroke-width="1.5"/>
<rect x="258.49" y="449.94" width="7.20" height="9.33" fill="url(#hatch)" stroke="#000" stroke-width="1.7"/>
<rect x="265.69" y="454.72" width="7.20" height="4.55" fill="#000" stroke="#000" stroke-width="1.7"/>
<rect x="270.99" y="455.77" width="1.2" height="1.3" fill="#aaa"/>
<rect x="272.89" y="457.29" width="7.20" height="1.98" fill="#fff" stroke="#000" stroke-width="1.7"/>
<rect x="292.42" y="364.71" width="7.20" height="94.56" fill="#000" stroke="#000" stroke-width="1.7"/>
<line x1="296.02" y1="363.04" x2="296.02" y2="363.96" stroke="#000" stroke-width="1.2"/>
<line x1="293.12" y1="363.04" x2="298.92" y2="363.04" stroke="#000" stroke-width="1.5"/>
<rect x="299.62" y="398.32" width="7.20" height="60.95" fill="#707070" stroke="#000" stroke-width="1.7"/>
<rect x="306.82" y="444.43" width="7.20" height="14.84" fill="#fff" stroke="#000" stroke-width="1.7"/>
<rect x="314.02" y="453.99" width="7.20" height="5.28" fill="url(#hatch)" stroke="#000" stroke-width="1.7"/>
<rect x="321.22" y="457.11" width="7.20" height="2.16" fill="#000" stroke="#000" stroke-width="1.7"/>
<rect x="328.42" y="457.11" width="7.20" height="2.16" fill="#fff" stroke="#000" stroke-width="1.7"/>
<rect x="347.95" y="365.99" width="7.20" height="93.28" fill="#000" stroke="#000" stroke-width="1.7"/>
<line x1="351.55" y1="364.32" x2="351.55" y2="365.24" stroke="#000" stroke-width="1.2"/>
<line x1="348.65" y1="364.32" x2="354.45" y2="364.32" stroke="#000" stroke-width="1.5"/>
<rect x="355.15" y="403.84" width="7.20" height="55.43" fill="#707070" stroke="#000" stroke-width="1.7"/>
<rect x="362.35" y="442.78" width="7.20" height="16.49" fill="#fff" stroke="#000" stroke-width="1.7"/>
<line x1="365.95" y1="441.11" x2="365.95" y2="442.03" stroke="#000" stroke-width="1.2"/>
<line x1="363.05" y1="441.11" x2="368.85" y2="441.11" stroke="#000" stroke-width="1.5"/>
<rect x="369.55" y="450.31" width="7.20" height="8.96" fill="url(#hatch)" stroke="#000" stroke-width="1.7"/>
<rect x="376.75" y="455.82" width="7.20" height="3.45" fill="#000" stroke="#000" stroke-width="1.7"/>
<rect x="383.95" y="457.66" width="7.20" height="1.61" fill="#fff" stroke="#000" stroke-width="1.7"/>
<path d="M229.20 274.90L229.20 279.30M227.29 276.00L231.11 278.20M231.11 276.00L227.29 278.20" stroke="#7c7c7c" stroke-width="1.3" fill="none"/>
<path d="M234.40 274.90L234.40 279.30M232.49 276.00L236.31 278.20M236.31 276.00L232.49 278.20" stroke="#7c7c7c" stroke-width="1.3" fill="none"/>
<path d="M239.60 274.90L239.60 279.30M237.69 276.00L241.51 278.20M241.51 276.00L237.69 278.20" stroke="#7c7c7c" stroke-width="1.3" fill="none"/>
<path d="M262.00 226.80L262.00 231.20M260.09 227.90L263.91 230.10M263.91 227.90L260.09 230.10" stroke="#7c7c7c" stroke-width="1.3" fill="none"/>
<path d="M276.15 268.30L276.15 272.70M274.24 269.40L278.06 271.60M278.06 269.40L274.24 271.60" stroke="#7c7c7c" stroke-width="1.3" fill="none"/>
<path d="M281.05 268.30L281.05 272.70M279.14 269.40L282.96 271.60M282.96 269.40L279.14 271.60" stroke="#7c7c7c" stroke-width="1.3" fill="none"/>
<path d="M303.00 234.60L303.00 239.00M301.09 235.70L304.91 237.90M304.91 235.70L301.09 237.90" stroke="#7c7c7c" stroke-width="1.3" fill="none"/>
<path d="M319.20 255.20L319.20 259.60M317.29 256.30L321.11 258.50M321.11 256.30L317.29 258.50" stroke="#7c7c7c" stroke-width="1.3" fill="none"/>
<path d="M324.40 255.20L324.40 259.60M322.49 256.30L326.31 258.50M326.31 256.30L322.49 258.50" stroke="#7c7c7c" stroke-width="1.3" fill="none"/>
<path d="M329.60 255.20L329.60 259.60M327.69 256.30L331.51 258.50M331.51 256.30L327.69 258.50" stroke="#7c7c7c" stroke-width="1.3" fill="none"/>
<path d="M329.85 264.60L329.85 269.00M327.94 265.70L331.76 267.90M331.76 265.70L327.94 267.90" stroke="#7c7c7c" stroke-width="1.3" fill="none"/>
<path d="M334.75 264.60L334.75 269.00M332.84 265.70L336.66 267.90M336.66 265.70L332.84 267.90" stroke="#7c7c7c" stroke-width="1.3" fill="none"/>
<path d="M231.00 368.90L231.00 373.30M229.09 370.00L232.91 372.20M232.91 370.00L229.09 372.20" stroke="#7c7c7c" stroke-width="1.3" fill="none"/>
<path d="M236.20 368.90L236.20 373.30M234.29 370.00L238.11 372.20M238.11 370.00L234.29 372.20" stroke="#7c7c7c" stroke-width="1.3" fill="none"/>
<path d="M241.40 368.90L241.40 373.30M239.49 370.00L243.31 372.20M243.31 370.00L239.49 372.20" stroke="#7c7c7c" stroke-width="1.3" fill="none"/>
<path d="M246.10 381.30L246.10 385.70M244.19 382.40L248.01 384.60M248.01 382.40L244.19 384.60" stroke="#7c7c7c" stroke-width="1.3" fill="none"/>
<path d="M251.30 381.30L251.30 385.70M249.39 382.40L253.21 384.60M253.21 382.40L249.39 384.60" stroke="#7c7c7c" stroke-width="1.3" fill="none"/>
<path d="M256.50 381.30L256.50 385.70M254.59 382.40L258.41 384.60M258.41 382.40L254.59 384.60" stroke="#7c7c7c" stroke-width="1.3" fill="none"/>
<path d="M286.10 356.00L286.10 360.40M284.19 357.10L288.01 359.30M288.01 357.10L284.19 359.30" stroke="#7c7c7c" stroke-width="1.3" fill="none"/>
<path d="M291.30 356.00L291.30 360.40M289.39 357.10L293.21 359.30M293.21 357.10L289.39 359.30" stroke="#7c7c7c" stroke-width="1.3" fill="none"/>
<path d="M296.50 356.00L296.50 360.40M294.59 357.10L298.41 359.30M298.41 357.10L294.59 359.30" stroke="#7c7c7c" stroke-width="1.3" fill="none"/>
<path d="M301.05 389.40L301.05 393.80M299.14 390.50L302.96 392.70M302.96 390.50L299.14 392.70" stroke="#7c7c7c" stroke-width="1.3" fill="none"/>
<path d="M305.95 389.40L305.95 393.80M304.04 390.50L307.86 392.70M307.86 390.50L304.04 392.70" stroke="#7c7c7c" stroke-width="1.3" fill="none"/>
<path d="M341.90 356.50L341.90 360.90M339.99 357.60L343.81 359.80M343.81 357.60L339.99 359.80" stroke="#7c7c7c" stroke-width="1.3" fill="none"/>
<path d="M347.10 356.50L347.10 360.90M345.19 357.60L349.01 359.80M349.01 357.60L345.19 359.80" stroke="#7c7c7c" stroke-width="1.3" fill="none"/>
<path d="M352.30 356.50L352.30 360.90M350.39 357.60L354.21 359.80M354.21 357.60L350.39 359.80" stroke="#7c7c7c" stroke-width="1.3" fill="none"/>
<path d="M356.50 394.60L356.50 399.00M354.59 395.70L358.41 397.90M358.41 395.70L354.59 397.90" stroke="#7c7c7c" stroke-width="1.3" fill="none"/>
<path d="M361.70 394.60L361.70 399.00M359.79 395.70L363.61 397.90M363.61 395.70L359.79 397.90" stroke="#7c7c7c" stroke-width="1.3" fill="none"/>
<path d="M366.90 394.60L366.90 399.00M364.99 395.70L368.81 397.90M368.81 395.70L364.99 397.90" stroke="#7c7c7c" stroke-width="1.3" fill="none"/>
<rect x="415.60" y="261.50" width="7.00" height="7.00" fill="#000" stroke="#000" stroke-width="1"/>
<text x="426.50" y="270.00" font-size="11" text-anchor="start" font-weight="normal" fill="#000" color="#000" font-family='"Liberation Serif", serif' textLength="12.23" lengthAdjust="spacingAndGlyphs">2N</text>
<rect x="415.60" y="283.60" width="7.00" height="7.00" fill="#707070" stroke="#000" stroke-width="1.4"/>
<text x="426.50" y="292.10" font-size="11" text-anchor="start" font-weight="normal" fill="#000" color="#000" font-family='"Liberation Serif", serif' textLength="12.23" lengthAdjust="spacingAndGlyphs">4N</text>
<rect x="415.60" y="304.90" width="7.00" height="7.00" fill="#fff" stroke="#000" stroke-width="1.4"/>
<text x="426.50" y="313.40" font-size="11" text-anchor="start" font-weight="normal" fill="#000" color="#000" font-family='"Liberation Serif", serif' textLength="12.23" lengthAdjust="spacingAndGlyphs">8N</text>
<rect x="415.60" y="328.00" width="7.00" height="7.00" fill="#fff" stroke="#000" stroke-width="1.5"/>
<line x1="416.40" y1="328.80" x2="421.80" y2="334.20" stroke="#000" stroke-width="1.6"/>
<text x="426.50" y="336.50" font-size="11" text-anchor="start" font-weight="normal" fill="#000" color="#000" font-family='"Liberation Serif", serif' textLength="17.24" lengthAdjust="spacingAndGlyphs">16N</text>
<rect x="415.60" y="350.00" width="7.00" height="7.00" fill="#000" stroke="#000" stroke-width="1"/>
<rect x="418.10" y="352.90" width="1.4" height="1.4" fill="#fff"/>
<text x="426.50" y="358.50" font-size="11" text-anchor="start" font-weight="normal" fill="#000" color="#000" font-family='"Liberation Serif", serif' textLength="17.24" lengthAdjust="spacingAndGlyphs">32N</text>
<rect x="415.60" y="372.50" width="7.00" height="7.00" fill="#fff" stroke="#000" stroke-width="1.2"/>
<line x1="415.60" y1="376.00" x2="422.60" y2="376.00" stroke="#000" stroke-width="1"/>
<text x="426.50" y="381.00" font-size="11" text-anchor="start" font-weight="normal" fill="#000" color="#000" font-family='"Liberation Serif", serif' textLength="22.88" lengthAdjust="spacingAndGlyphs">64N+</text>
<g transform="translate(28.7,308.3) rotate(-90)">
<text x="0.00" y="0.00" font-size="11" text-anchor="middle" font-weight="bold" fill="#000" color="#000" font-family='"Liberation Serif", serif' textLength="148.8" lengthAdjust="spacingAndGlyphs">Percentage of CD41-Positive Cells</text>
</g>
<text x="87.00" y="473.30" font-size="11" text-anchor="middle" font-weight="bold" fill="#000" color="#000" font-family='"Liberation Serif", serif' textLength="24.6" lengthAdjust="spacingAndGlyphs">Day 3</text>
<text x="143.10" y="473.30" font-size="11" text-anchor="middle" font-weight="bold" fill="#000" color="#000" font-family='"Liberation Serif", serif' textLength="24.6" lengthAdjust="spacingAndGlyphs">Day 5</text>
<text x="198.30" y="473.30" font-size="11" text-anchor="middle" font-weight="bold" fill="#000" color="#000" font-family='"Liberation Serif", serif' textLength="24.6" lengthAdjust="spacingAndGlyphs">Day 7</text>
<text x="254.00" y="473.30" font-size="11" text-anchor="middle" font-weight="bold" fill="#000" color="#000" font-family='"Liberation Serif", serif' textLength="24.4" lengthAdjust="spacingAndGlyphs">Day 3</text>
<text x="309.60" y="473.30" font-size="11" text-anchor="middle" font-weight="bold" fill="#000" color="#000" font-family='"Liberation Serif", serif' textLength="24.4" lengthAdjust="spacingAndGlyphs">Day 5</text>
<text x="364.50" y="473.30" font-size="11" text-anchor="middle" font-weight="bold" fill="#000" color="#000" font-family='"Liberation Serif", serif' textLength="24.4" lengthAdjust="spacingAndGlyphs">Day 7</text>
<line x1="84.20" y1="477.50" x2="199.00" y2="477.50" stroke="#000" stroke-width="1.2"/>
<line x1="249.00" y1="478.40" x2="362.80" y2="478.40" stroke="#000" stroke-width="1.2"/>
<text x="140.50" y="490.50" font-size="11" text-anchor="middle" font-weight="bold" fill="#000" color="#000" font-family='"Liberation Serif", serif' textLength="26" lengthAdjust="spacingAndGlyphs">Saline</text>
<text x="306.90" y="490.50" font-size="11" text-anchor="middle" font-weight="bold" fill="#000" color="#000" font-family='"Liberation Serif", serif' textLength="59.8" lengthAdjust="spacingAndGlyphs">4 mg/kg PAM</text>
<text x="25.60" y="13.80" font-size="12" text-anchor="start" font-weight="bold" fill="#000" color="#000" font-family='"Liberation Sans", sans-serif'>A</text>
<text x="0.20" y="172.60" font-size="12" text-anchor="start" font-weight="bold" fill="#000" color="#000" font-family='"Liberation Sans", sans-serif'>B</text>
<text x="-0.60" y="328.20" font-size="12" text-anchor="start" font-weight="bold" fill="#000" color="#000" font-family='"Liberation Sans", sans-serif'>C</text>
</svg>
</body></html>
